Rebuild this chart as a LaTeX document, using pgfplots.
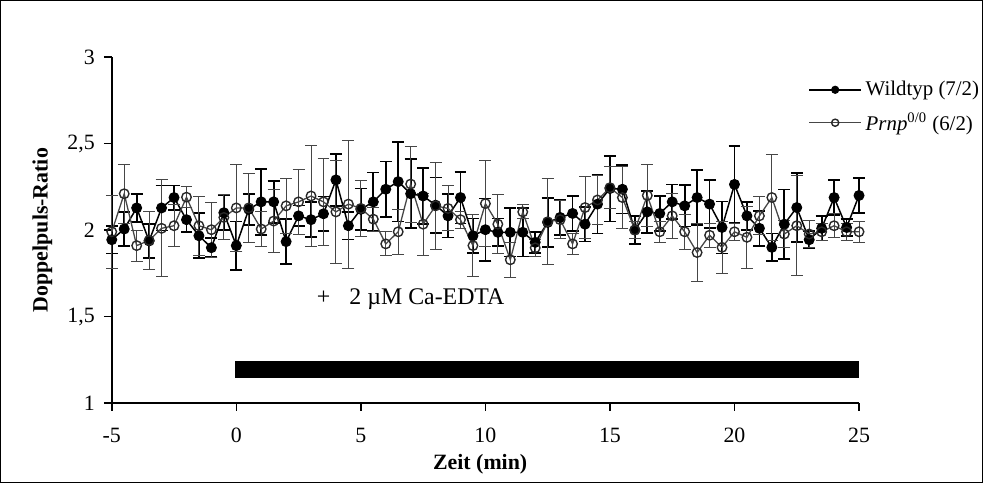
\documentclass[border=0pt]{standalone}
\usepackage{fontspec}
\setmainfont{Liberation Serif}
\usepackage{pgfplots}
\pgfplotsset{compat=1.18}
\usepackage{pgfplotstable}

\pgfplotstableread{
x y e
-5 1.944 0.08
-4.5 2.006 0.10
-4 2.128 0.08
-3.5 1.937 0.10
-3 2.128 0.13
-2.5 2.188 0.07
-2 2.06 0.07
-1.5 1.967 0.13
-1 1.898 0.055
-0.5 2.10 0.10
0 1.91 0.14
0.5 2.12 0.09
1 2.163 0.19
1.5 2.163 0.12
2 1.933 0.13
2.5 2.082 0.06
3 2.06 0.10
3.5 2.094 0.10
4 2.29 0.15
4.5 2.025 0.08
5 2.12 0.12
5.5 2.163 0.17
6 2.236 0.16
6.5 2.28 0.23
7 2.21 0.20
7.5 2.197 0.16
8 2.144 0.16
8.5 2.082 0.125
9 2.188 0.15
9.5 1.967 0.10
10 2.002 0.18
10.5 1.987 0.08
11 1.987 0.14
11.5 1.987 0.14
12 1.929 0.06
12.5 2.044 0.14
13 2.073 0.10
13.5 2.096 0.10
14 2.034 0.10
14.5 2.15 0.17
15 2.24 0.19
15.5 2.236 0.14
16 2.0 0.08
16.5 2.105 0.12
17 2.096 0.10
17.5 2.163 0.10
18 2.14 0.12
18.5 2.188 0.16
19 2.15 0.14
19.5 2.015 0.15
20 2.264 0.22
20.5 2.082 0.08
21 2.01 0.10
21.5 1.90 0.08
22 2.034 0.20
22.5 2.13 0.20
23 1.944 0.05
23.5 2.01 0.07
24 2.188 0.10
24.5 2.015 0.05
25 2.2 0.10
}\wild

\pgfplotstableread{
x y e
-5 1.99 0.21
-4.5 2.21 0.17
-4 1.91 0.09
-3.5 1.94 0.17
-3 2.01 0.28
-2.5 2.025 0.12
-2 2.19 0.06
-1.5 2.025 0.17
-1 2.002 0.16
-0.5 2.073 0.13
0 2.128 0.25
0.5 2.128 0.20
1 2.006 0.10
1.5 2.052 0.18
2 2.14 0.16
2.5 2.163 0.19
3 2.197 0.29
3.5 2.163 0.25
4 2.105 0.30
4.5 2.15 0.37
5 2.125 0.16
5.5 2.063 0.07
6 1.92 0.07
6.5 1.99 0.13
7 2.266 0.22
7.5 2.034 0.18
8 2.14 0.25
8.5 2.125 0.13
9 2.06 0.05
9.5 1.91 0.18
10 2.153 0.25
10.5 2.034 0.17
11 1.828 0.10
11.5 2.105 0.04
12 1.897 0.05
12.5 2.048 0.25
13 2.06 0.11
13.5 1.92 0.06
14 2.13 0.18
14.5 2.174 0.14
15 2.245 0.12
15.5 2.188 0.18
16 2.0 0.05
16.5 2.2 0.18
17 1.99 0.06
17.5 2.082 0.13
18 1.99 0.10
18.5 1.87 0.17
19 1.97 0.07
19.5 1.90 0.15
20 1.99 0.05
20.5 1.958 0.18
21 2.082 0.11
21.5 2.188 0.25
22 1.977 0.08
22.5 2.025 0.29
23 1.977 0.08
23.5 1.99 0.05
24 2.025 0.07
24.5 1.99 0.05
25 1.99 0.06
}\prnp

\definecolor{grayline}{RGB}{70,70,70}
\definecolor{markline}{RGB}{40,40,40}

\begin{document}
\begin{tikzpicture}
\begin{axis}[
  scale only axis, width=376pt, height=174pt,
  xmin=-5, xmax=25, ymin=1, ymax=3,
  axis x line*=bottom, axis y line*=left,
  axis line style={line width=0.8pt, -},
  xtick={-5,0,5,10,15,20,25},
  xticklabels={-5,0,5,10,15,20,25},
  ytick={1,1.5,2,2.5,3},
  yticklabel style={xshift=-1pt, /pgf/number format/.cd, use comma, fixed},
  /pgf/number format/assume math mode=true,
  tick align=outside, major tick length=4pt,
  tick style={line width=0.8pt, black},
  xticklabel style={yshift=-5pt},
  clip=false,
  font=\fontsize{11}{13}\selectfont,
  xlabel={\textbf{Zeit (min)}},
  ylabel={\textbf{Doppelpuls-Ratio}},
  xlabel style={at={(rel axis cs:0.493,-0.178)}, anchor=center},
  ylabel style={at={(rel axis cs:-0.093,0.5)}, anchor=center},
  legend style={at={(rel axis cs:0.924,0.955)}, anchor=north west, draw=none, fill=none,
    row sep=3pt, font=\fontsize{10.5}{12.5}\selectfont},
  legend cell align=left,
  legend image code/.code={\draw[mark repeat=2,mark phase=2,#1,mark size=1.8pt] plot coordinates {(0pt,0pt) (13pt,0pt) (26pt,0pt)};},
]
\addplot[fill=black, draw=none, forget plot] coordinates {(-0.05,1.145) (25,1.145) (25,1.245) (-0.05,1.245)} -- cycle;

\addplot[black, line width=0.75pt, mark=*, mark size=2.5pt, mark options={solid, fill=black, line width=0.5pt},
  error bars/.cd, y dir=both, y explicit,
  error bar style={line width=0.9pt, black},
  error mark options={rotate=90, line width=0.9pt, mark size=3pt, black}]
  table[x=x, y=y, y error=e]{\wild};
\addlegendentry{Wildtyp (7/2)}

\addplot[grayline, line width=0.65pt, mark=o, mark size=2.4pt, mark options={solid, fill=white, draw=markline, line width=0.7pt},
  error bars/.cd, y dir=both, y explicit,
  error bar style={line width=0.5pt, grayline},
  error mark options={rotate=90, line width=0.5pt, mark size=3pt, grayline}]
  table[x=x, y=y, y error=e]{\prnp};
\addlegendentry{\textit{Prnp}\textsuperscript{0/0} (6/2)}

\node[font=\fontsize{12}{14}\selectfont] at (axis cs:7.0,1.6) {+\hspace{0.8em}2 µM Ca-EDTA};
\draw[line width=0.5pt] (rel axis cs:-0.1489,-0.2299) rectangle (rel axis cs:1.1649,1.1638);
\end{axis}
\end{tikzpicture}
\end{document}
